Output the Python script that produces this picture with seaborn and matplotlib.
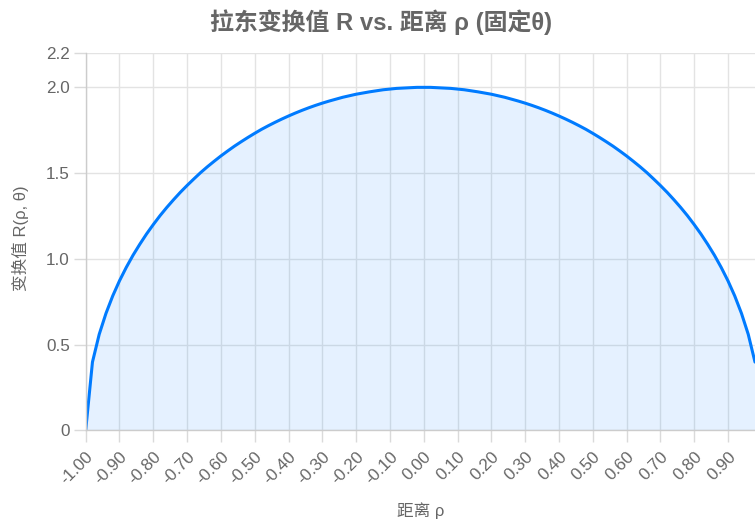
import numpy as np
import pandas as pd
import seaborn as sns
import matplotlib.pyplot as plt

# distance rho (category axis, step 0.02)
rho = [-1.00, -0.98, -0.96, -0.94, -0.92, -0.90, -0.88, -0.86, -0.84, -0.82,
       -0.80, -0.78, -0.76, -0.74, -0.72, -0.70, -0.68, -0.66, -0.64, -0.62,
       -0.60, -0.58, -0.56, -0.54, -0.52, -0.50, -0.48, -0.46, -0.44, -0.42,
       -0.40, -0.38, -0.36, -0.34, -0.32, -0.30, -0.28, -0.26, -0.24, -0.22,
       -0.20, -0.18, -0.16, -0.14, -0.12, -0.10, -0.08, -0.06, -0.04, -0.02,
       0.00, 0.02, 0.04, 0.06, 0.08, 0.10, 0.12, 0.14, 0.16, 0.18,
       0.20, 0.22, 0.24, 0.26, 0.28, 0.30, 0.32, 0.34, 0.36, 0.38,
       0.40, 0.42, 0.44, 0.46, 0.48, 0.50, 0.52, 0.54, 0.56, 0.58,
       0.60, 0.62, 0.64, 0.66, 0.68, 0.70, 0.72, 0.74, 0.76, 0.78,
       0.80, 0.82, 0.84, 0.86, 0.88, 0.90, 0.92, 0.94, 0.96, 0.98]

# transform value R(rho, theta)
r_value = [0.000, 0.398, 0.560, 0.682, 0.784, 0.872, 0.950, 1.021, 1.085, 1.145,
           1.200, 1.252, 1.300, 1.345, 1.388, 1.428, 1.466, 1.503, 1.537, 1.569,
           1.600, 1.629, 1.657, 1.683, 1.708, 1.732, 1.755, 1.776, 1.796, 1.815,
           1.833, 1.850, 1.866, 1.881, 1.895, 1.908, 1.920, 1.931, 1.942, 1.951,
           1.960, 1.967, 1.974, 1.980, 1.986, 1.990, 1.994, 1.996, 1.998, 2.000,
           2.000, 2.000, 1.998, 1.996, 1.994, 1.990, 1.986, 1.980, 1.974, 1.967,
           1.960, 1.951, 1.942, 1.931, 1.920, 1.908, 1.895, 1.881, 1.866, 1.850,
           1.833, 1.815, 1.796, 1.776, 1.755, 1.732, 1.708, 1.683, 1.657, 1.629,
           1.600, 1.569, 1.537, 1.503, 1.466, 1.428, 1.388, 1.345, 1.300, 1.252,
           1.200, 1.145, 1.085, 1.021, 0.950, 0.872, 0.784, 0.682, 0.560, 0.398]

x_ticks = [-1.0, -0.9, -0.8, -0.7, -0.6, -0.5, -0.4, -0.3, -0.2, -0.1,
           0.0, 0.1, 0.2, 0.3, 0.4, 0.5, 0.6, 0.7, 0.8, 0.9]
x_tick_labels = ['-1.00', '-0.90', '-0.80', '-0.70', '-0.60', '-0.50', '-0.40',
                 '-0.30', '-0.20', '-0.10', '0.00', '0.10', '0.20', '0.30',
                 '0.40', '0.50', '0.60', '0.70', '0.80', '0.90']
y_ticks = [0, 0.5, 1.0, 1.5, 2.0, 2.2]
y_tick_labels = ['0', '0.5', '1.0', '1.5', '2.0', '2.2']

LINE_COLOR = '#007bff'
TEXT_COLOR = '#666666'
GRID_COLOR = '#e3e3e3'
TICK_COLOR = '#dadada'
AXIS_COLOR = '#cccccc'

sns.set_theme(style='whitegrid')
plt.rcParams['font.family'] = ['Liberation Sans', 'Noto Sans CJK SC', 'DejaVu Sans']

df = pd.DataFrame({'rho': rho, 'R': r_value})

fig = plt.figure(figsize=(7.55, 5.28), dpi=100)
ax = fig.add_axes([0.1135, 0.185, 0.8865, 0.7145])

ax.fill_between(df['rho'], df['R'], 0, color=LINE_COLOR, alpha=0.1, linewidth=0)
sns.lineplot(data=df, x='rho', y='R', ax=ax, color=LINE_COLOR, linewidth=2.2)

ax.set_xlim(-1.0, 0.98)
ax.set_ylim(0, 2.2)
ax.set_xticks(x_ticks)
ax.set_xticklabels(x_tick_labels, rotation=45, ha='right', rotation_mode='anchor')
ax.set_yticks(y_ticks)
ax.set_yticklabels(y_tick_labels)

ax.grid(True, color=GRID_COLOR, linewidth=1)
ax.tick_params(axis='both', which='major', bottom=True, left=True, length=8.5,
               width=1, color=TICK_COLOR, labelsize=12.3, labelcolor=TEXT_COLOR, pad=3)
ax.tick_params(axis='x', pad=5)

for side in ['top', 'right']:
    ax.spines[side].set_visible(False)
for side in ['left', 'bottom']:
    ax.spines[side].set_color(AXIS_COLOR)
    ax.spines[side].set_linewidth(1)

ax.set_xlabel('距离 ρ', fontsize=12, color=TEXT_COLOR, va='center')
ax.set_ylabel('变换值 R(ρ, θ)', fontsize=12, color=TEXT_COLOR, va='center')
ax.xaxis.set_label_coords(0.5, -0.214)
ax.yaxis.set_label_coords(-0.098, 0.51)

fig.suptitle('拉东变换值 R vs. 距离 ρ (固定θ)', x=0.505, y=0.958, va='center',
             fontsize=17.2, fontweight='bold', color=TEXT_COLOR)

fig.savefig('out.png', dpi=100)
